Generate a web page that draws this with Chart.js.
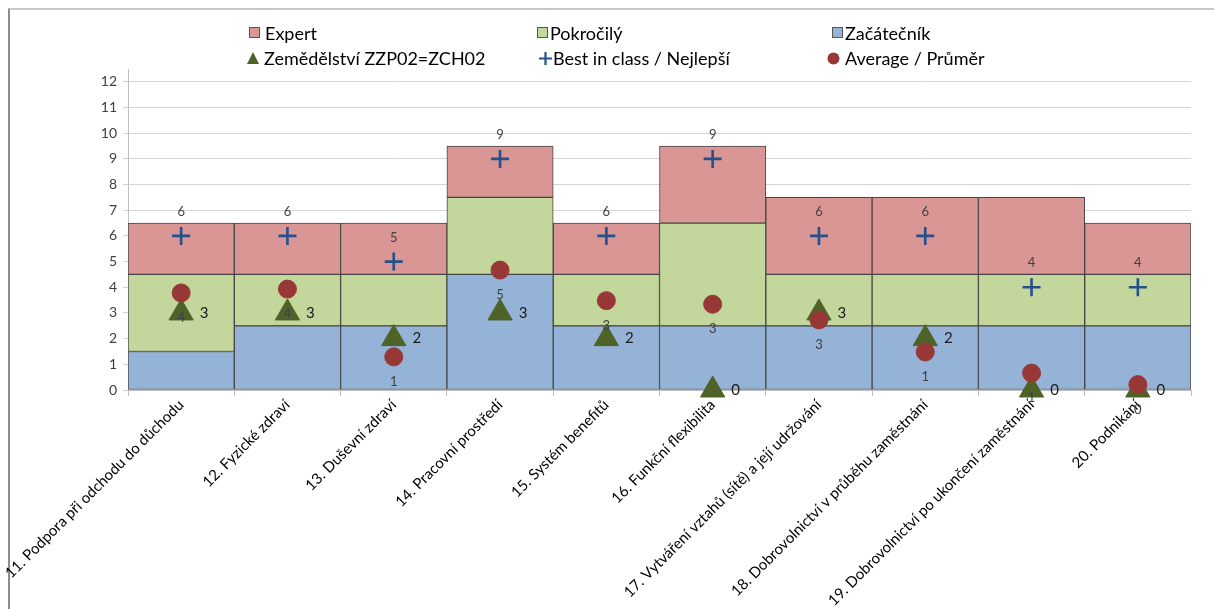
<!DOCTYPE html>
<html>
<head>
<meta charset="utf-8">
<script src="https://cdn.jsdelivr.net/npm/chart.js@4.4.0/dist/chart.umd.min.js"></script>
<style>
  html, body { margin: 0; padding: 0; background: #fff; }
  #wrap { position: relative; width: 1214px; height: 609px; overflow: hidden; font-family: Lato, "Open Sans", sans-serif; }
  #frame { position: absolute; left: 8px; top: 8px; width: 1300px; height: 700px;
           border-left: 2px solid #8c8c8c; border-top: 2px solid #c8c8c8; }
  #chart { position: absolute; left: 0; top: 0; }
  .lg { position: absolute; height: 22px; line-height: 22px; font-size: 18px; color: #000; white-space: nowrap; }
  .lg svg { position: absolute; left: 0; top: 5px; }
  .lg span { position: absolute; top: 0; }
</style>
</head>
<body>
<div id="wrap">
  <div id="frame"></div>
  <canvas id="chart" width="1214" height="609"></canvas>
  <div id="legend"></div>
</div>
<script>
// kategorie a hodnoty
const categories = [
  '11. Podpora při odchodu do důchodu',
  '12. Fyzické zdraví',
  '13. Duševní zdraví',
  '14. Pracovní prostředí',
  '15. Systém benefitů',
  '16. Funkční flexibilita',
  '17. Vytváření vztahů (sítě) a její udržování',
  '18. Dobrovolnictví v průběhu zaměstnání',
  '19. Dobrovolnictví po ukončení zaměstnání',
  '20. Podnikání'
];
const zacatecnik = [1.5, 2.5, 2.5, 4.5, 2.5, 2.5, 2.5, 2.5, 2.5, 2.5];
const pokrocily  = [3, 2, 2, 3, 2, 4, 2, 2, 2, 2];
const expert     = [2, 2, 2, 2, 2, 3, 3, 3, 3, 2];
const zemedelstvi = [3, 3, 2, 3, 2, 0, 3, 2, 0, 0];
const nejlepsi    = [6, 6, 5, 9, 6, 9, 6, 6, 4, 4];
const prumer      = [3.78, 3.93, 1.29, 4.67, 3.48, 3.34, 2.73, 1.48, 0.66, 0.21];
const prumerLabels = ['4', '4', '1', '5', '3', '3', '3', '1', '1', '0'];
const yTicks = [0, 1, 2, 3, 4, 5, 6, 7, 8, 9, 10, 11, 12];

const RED = '#D99694', GREEN = '#C3D69B', BLUE = '#95B3D7';
const OLIVE = '#4F6228', DARKRED = '#983836', NAVY = '#24508C';

// popisky u bodů
const pointLabels = {
  id: 'pointLabels',
  afterDatasetsDraw(chart) {
    const ctx = chart.ctx;
    ctx.save();
    ctx.textAlign = 'center';
    ctx.textBaseline = 'middle';

    ctx.font = '13px Lato';
    ctx.fillStyle = '#404040';
    chart.getDatasetMeta(2).data.forEach((pt, i) => {
      ctx.fillText(String(nejlepsi[i]), pt.x, pt.y - 24);
    });
    chart.getDatasetMeta(0).data.forEach((pt, i) => {
      ctx.fillText(prumerLabels[i], pt.x, pt.y + 25);
    });

    ctx.font = '15px Lato';
    ctx.fillStyle = '#1a1a1a';
    chart.getDatasetMeta(1).data.forEach((pt, i) => {
      ctx.fillText(String(zemedelstvi[i]), pt.x + 23, pt.y);
    });
    ctx.restore();
  }
};

const barDs = (label, data, color) => ({
  type: 'bar', label: label, data: data, backgroundColor: color,
  borderColor: '#454545', borderWidth: 1, borderSkipped: false,
  barPercentage: 1, categoryPercentage: 1, stack: 'urovne'
});

const pointDs = (label, data, style, radius, color, extra) => Object.assign({
  type: 'line', label: label, data: data, showLine: false, clip: false,
  pointStyle: style, pointRadius: radius, pointHoverRadius: radius,
  backgroundColor: color, borderColor: color, pointBorderWidth: 1, stack: label
}, extra || {});

const datasets = [
  pointDs('Average / Průměr', prumer, 'circle', 9, DARKRED),
  pointDs('Zemědělství ZZP02=ZCH02', zemedelstvi, 'triangle', 14, OLIVE),
  pointDs('Best in class / Nejlepší', nejlepsi, 'cross', 9, NAVY, { pointBorderWidth: 2.6 }),
  barDs('Začátečník', zacatecnik, BLUE),
  barDs('Pokročilý', pokrocily, GREEN),
  barDs('Expert', expert, RED)
];

new Chart(document.getElementById('chart'), {
  data: { labels: categories, datasets: datasets },
  options: {
    responsive: false,
    animation: false,
    devicePixelRatio: 1,
    layout: { padding: { top: 69, right: 23, left: 0, bottom: 0 } },
    plugins: { legend: { display: false }, tooltip: { enabled: false } },
    scales: {
      x: {
        stacked: true,
        afterFit: (s) => { s.height = 219; },
        grid: { offset: true, drawOnChartArea: false, drawTicks: true, tickLength: 6, color: '#bfbfbf' },
        border: { color: '#bfbfbf' },
        ticks: { autoSkip: false, maxRotation: 45, minRotation: 45, padding: 0,
                 color: '#000', font: { family: 'Lato', size: 15 } }
      },
      y: {
        stacked: true,
        min: 0, max: 12.5,
        afterFit: (s) => { s.width = 128; },
        afterBuildTicks: (s) => { s.ticks = yTicks.map(v => ({ value: v })); },
        grid: { color: '#d4d4d4', tickLength: 5 },
        border: { color: '#bfbfbf' },
        ticks: { padding: 6, color: '#404040', font: { family: 'Lato', size: 14 } }
      }
    }
  },
  plugins: [pointLabels]
});

// legenda ve třech sloupcích
const svgSquare = (c) => `<svg width="12" height="12"><rect x="0.5" y="0.5" width="10" height="10" fill="${c}" stroke="#555"/></svg>`;
const legendItems = [
  { text: 'Expert', x: 249, y: 22, tx: 16, svg: svgSquare(RED) },
  { text: 'Pokročilý', x: 537, y: 22, tx: 13, svg: svgSquare(GREEN) },
  { text: 'Začátečník', x: 832, y: 22, tx: 13, svg: svgSquare(BLUE) },
  { text: 'Zemědělství ZZP02=ZCH02', x: 247, y: 47, tx: 17,
    svg: `<svg width="13" height="12"><polygon points="6,0 12,12 0,12" fill="${OLIVE}"/></svg>` },
  { text: 'Best in class / Nejlepší', x: 539, y: 47, tx: 14,
    svg: `<svg width="13" height="13"><path d="M6.5 0V13M0 6.5H13" stroke="${NAVY}" stroke-width="2.2"/></svg>` },
  { text: 'Average / Průměr', x: 827, y: 47, tx: 18,
    svg: `<svg width="13" height="13"><circle cx="6.5" cy="6.5" r="6" fill="${DARKRED}"/></svg>` }
];
const legend = document.getElementById('legend');
legendItems.forEach(it => {
  const d = document.createElement('div');
  d.className = 'lg';
  d.style.left = it.x + 'px';
  d.style.top = it.y + 'px';
  d.innerHTML = it.svg + '<span style="left:' + it.tx + 'px">' + it.text + '</span>';
  legend.appendChild(d);
});
</script>
</body>
</html>
